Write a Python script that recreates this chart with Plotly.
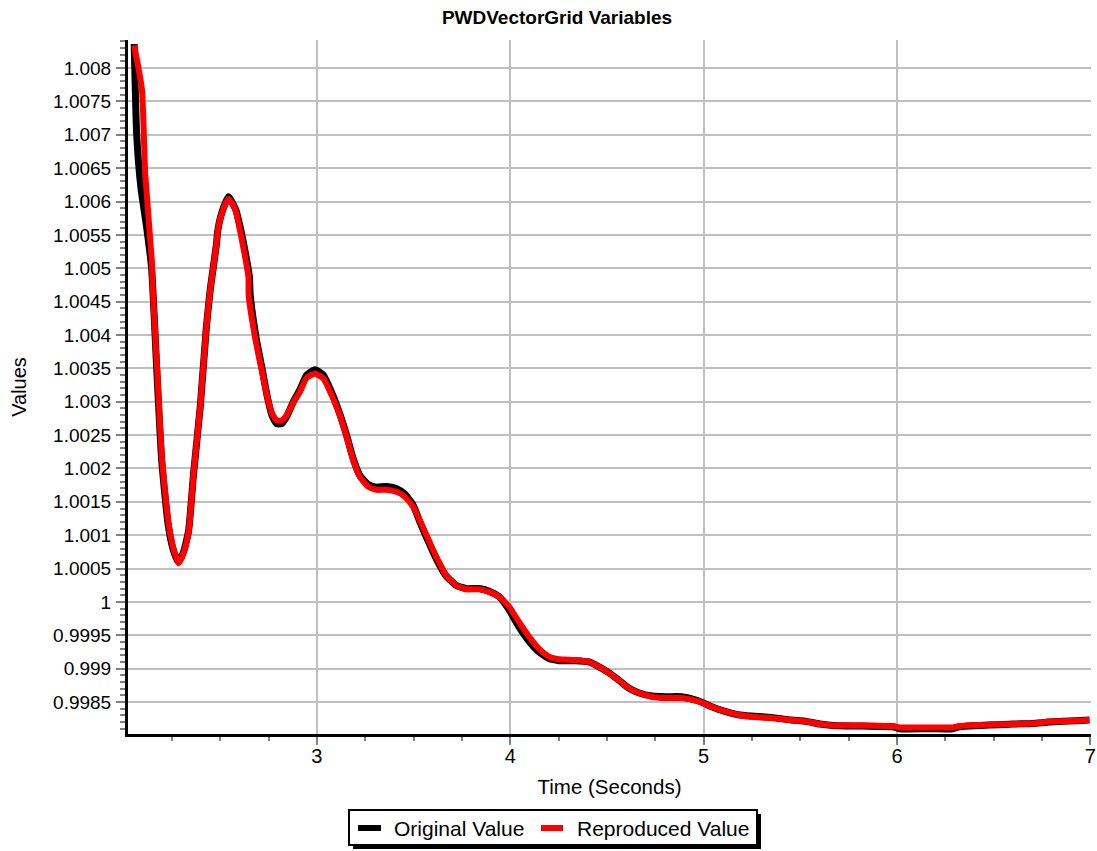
import plotly.graph_objects as go

# ---- data ----
time_reproduced = [2.055, 2.095, 2.112, 2.147, 2.149, 2.174, 2.199, 2.233, 2.259, 2.285,
                   2.311, 2.337, 2.362, 2.397, 2.428, 2.449, 2.480, 2.487, 2.509, 2.543,
                   2.578, 2.595, 2.621, 2.646, 2.647, 2.681, 2.715, 2.741, 2.767, 2.792,
                   2.818, 2.844, 2.878, 2.912, 2.947, 2.990, 3.033, 3.076, 3.118, 3.153,
                   3.187, 3.221, 3.264, 3.307, 3.359, 3.410, 3.453, 3.496, 3.539, 3.582,
                   3.625, 3.668, 3.719, 3.771, 3.839, 3.900, 3.942, 3.994, 4.045, 4.097,
                   4.148, 4.200, 4.251, 4.337, 4.406, 4.457, 4.509, 4.560, 4.612, 4.663,
                   4.732, 4.801, 4.886, 4.972, 5.041, 5.110, 5.178, 5.247, 5.350, 5.453,
                   5.531, 5.600, 5.668, 5.823, 5.978, 6.013, 6.168, 6.288, 6.323, 6.598,
                   6.702, 6.788, 6.926, 6.995]
value_reproduced = [1.00834, 1.00768, 1.00642, 1.00508, 1.00481, 1.00347, 1.00213, 1.00117, 1.00079, 1.00058,
                    1.00074, 1.00106, 1.00192, 1.00294, 1.00411, 1.00470, 1.00535, 1.00556, 1.00583, 1.00604,
                    1.00588, 1.00567, 1.00529, 1.00487, 1.00460, 1.00395, 1.00347, 1.00310, 1.00283, 1.00272,
                    1.00272, 1.00280, 1.00299, 1.00315, 1.00336, 1.00342, 1.00335, 1.00310, 1.00280, 1.00248,
                    1.00213, 1.00188, 1.00173, 1.00168, 1.00168, 1.00165, 1.00158, 1.00143, 1.00118, 1.00090,
                    1.00063, 1.00040, 1.00025, 1.00019, 1.00019, 1.00014, 1.00008, 0.99993, 0.99970, 0.99948,
                    0.99930, 0.99918, 0.99914, 0.99913, 0.99910, 0.99903, 0.99894, 0.99883, 0.99871, 0.99864,
                    0.99858, 0.99856, 0.99856, 0.99851, 0.99843, 0.99836, 0.99831, 0.99828, 0.99826, 0.99823,
                    0.99821, 0.99817, 0.99815, 0.99815, 0.99814, 0.99812, 0.99812, 0.99812, 0.99814, 0.99817,
                    0.99818, 0.99821, 0.99822, 0.99823]

time_original = [2.055, 2.068, 2.090, 2.120, 2.145, 2.172, 2.197, 2.230, 2.256, 2.283,
                 2.309, 2.336, 2.362, 2.397, 2.428, 2.449, 2.480, 2.487, 2.509, 2.543,
                 2.580, 2.599, 2.626, 2.651, 2.655, 2.686, 2.718, 2.743, 2.767, 2.792,
                 2.818, 2.844, 2.878, 2.912, 2.947, 2.990, 3.033, 3.076, 3.118, 3.153,
                 3.187, 3.221, 3.264, 3.307, 3.359, 3.410, 3.453, 3.496, 3.535, 3.577,
                 3.620, 3.665, 3.719, 3.771, 3.839, 3.900, 3.942, 3.990, 4.040, 4.092,
                 4.145, 4.200, 4.251, 4.337, 4.406, 4.457, 4.509, 4.560, 4.612, 4.663,
                 4.732, 4.801, 4.886, 4.972, 5.041, 5.110, 5.178, 5.247, 5.350, 5.453,
                 5.531, 5.600, 5.668, 5.823, 5.978, 6.013, 6.168, 6.288, 6.323, 6.598,
                 6.702, 6.788, 6.926, 6.995]
value_original = [1.00836, 1.00700, 1.00620, 1.00560, 1.00500, 1.00347, 1.00213, 1.00117, 1.00079, 1.00060,
                  1.00074, 1.00106, 1.00192, 1.00294, 1.00411, 1.00470, 1.00535, 1.00556, 1.00584, 1.00607,
                  1.00588, 1.00567, 1.00529, 1.00487, 1.00460, 1.00395, 1.00347, 1.00308, 1.00280, 1.00267,
                  1.00267, 1.00278, 1.00300, 1.00318, 1.00340, 1.00348, 1.00340, 1.00314, 1.00282, 1.00250,
                  1.00215, 1.00190, 1.00176, 1.00172, 1.00173, 1.00170, 1.00162, 1.00146, 1.00118, 1.00090,
                  1.00063, 1.00040, 1.00025, 1.00020, 1.00020, 1.00015, 1.00008, 0.99990, 0.99965, 0.99943,
                  0.99926, 0.99915, 0.99912, 0.99912, 0.99910, 0.99903, 0.99894, 0.99883, 0.99871, 0.99864,
                  0.99859, 0.99858, 0.99858, 0.99852, 0.99843, 0.99836, 0.99831, 0.99829, 0.99827, 0.99823,
                  0.99821, 0.99817, 0.99815, 0.99814, 0.99813, 0.99810, 0.99810, 0.99810, 0.99813, 0.99817,
                  0.99818, 0.99820, 0.99822, 0.99823]

y_tick_values = [0.9985, 0.999, 0.9995, 1.0, 1.0005, 1.001, 1.0015, 1.002, 1.0025, 1.003,
                 1.0035, 1.004, 1.0045, 1.005, 1.0055, 1.006, 1.0065, 1.007, 1.0075, 1.008]
y_tick_labels = ["0.9985", "0.999", "0.9995", "1", "1.0005", "1.001", "1.0015", "1.002", "1.0025", "1.003",
                 "1.0035", "1.004", "1.0045", "1.005", "1.0055", "1.006", "1.0065", "1.007", "1.0075", "1.008"]
x_tick_values = [3, 4, 5, 6, 7]
x_tick_labels = ["3", "4", "5", "6", "7"]
series_names = ["Original Value", "Reproduced Value"]
series_colors = ["black", "#ff0000"]

FONT = "Arial, Liberation Sans, sans-serif"

# plot area in pixels (for paper-coordinate placement of decorations)
L, R, T, B = 128, 6, 40, 117
W, H = 1097, 851
PW, PH = W - L - R, H - T - B


def px_x(px):
    return (px - L) / PW


def px_y(py):
    return (H - B - py) / PH


fig = go.Figure()
fig.add_trace(go.Scatter(x=time_original, y=value_original, mode="lines",
                         name=series_names[0], showlegend=False,
                         line=dict(color=series_colors[0], width=7, shape="spline", smoothing=0.5)))
fig.add_trace(go.Scatter(x=time_reproduced, y=value_reproduced, mode="lines",
                         name=series_names[1], showlegend=False,
                         line=dict(color=series_colors[1], width=6, shape="spline", smoothing=0.5)))

fig.update_layout(
    width=W, height=H,
    margin=dict(l=L, r=R, t=T, b=B, autoexpand=False),
    paper_bgcolor="white", plot_bgcolor="white",
    font=dict(family=FONT, size=20, color="black"),
    title=dict(text="<b>PWDVectorGrid Variables</b>", x=557 / W, xanchor="center",
               y=1 - 17 / H, yanchor="middle", font=dict(size=19, family=FONT, color="black")),
    showlegend=False,
)

fig.update_xaxes(
    range=[2.023, 7.003],
    tickmode="array", tickvals=x_tick_values, ticktext=x_tick_labels,
    ticks="outside", ticklen=8, tickwidth=1.5, tickcolor="#808080",
    minor=dict(dtick=0.25, tick0=2, ticks="outside", ticklen=4, tickwidth=1.5,
               tickcolor="#808080", showgrid=False),
    showgrid=True, gridcolor="#c0c0c0", gridwidth=1.5,
    showline=True, linecolor="black", linewidth=3,
    zeroline=False, ticklabelstandoff=-6,
    tickfont=dict(size=20, family=FONT, color="black"),
    title=dict(text="Time (Seconds)", font=dict(size=20.5, family=FONT, color="black"), standoff=14),
)
fig.update_yaxes(
    range=[0.998021, 1.00842],
    tickmode="array", tickvals=y_tick_values, ticktext=y_tick_labels,
    ticks="outside", ticklen=9, tickwidth=1.5, tickcolor="#808080",
    minor=dict(dtick=0.0001, tick0=0.998, ticks="outside", ticklen=5, tickwidth=1.5,
               tickcolor="#808080", showgrid=False),
    showgrid=True, gridcolor="#c0c0c0", gridwidth=1.5,
    showline=True, linecolor="black", linewidth=3,
    zeroline=False, ticklabelstandoff=1,
    tickfont=dict(size=19, family=FONT, color="black"),
    title=dict(text="Values", font=dict(size=20, family=FONT, color="black"), standoff=22),
)

# ---- legend drawn as a framed box with a drop shadow ----
fig.add_shape(type="rect", xref="paper", yref="paper",
              x0=px_x(353), x1=px_x(761), y0=px_y(849), y1=px_y(814),
              fillcolor="black", line=dict(width=0), layer="above")
fig.add_shape(type="rect", xref="paper", yref="paper",
              x0=px_x(349), x1=px_x(757), y0=px_y(845), y1=px_y(810),
              fillcolor="white", line=dict(color="black", width=2), layer="above")
legend_items = [(358, 381, 392), (541, 563, 575)]
for (sx0, sx1, tx), name, color in zip(legend_items, series_names, series_colors):
    fig.add_shape(type="line", xref="paper", yref="paper",
                  x0=px_x(sx0), x1=px_x(sx1), y0=px_y(828), y1=px_y(828),
                  line=dict(color=color, width=6), layer="above")
    fig.add_annotation(x=px_x(tx), y=px_y(828), xref="paper", yref="paper",
                       text=name, showarrow=False, xanchor="left", yanchor="middle",
                       font=dict(size=21, family=FONT, color="black"))

fig.write_html("out.html", config={"displayModeBar": False},
               post_script="document.body.style.margin='0';document.body.style.overflow='hidden';")
